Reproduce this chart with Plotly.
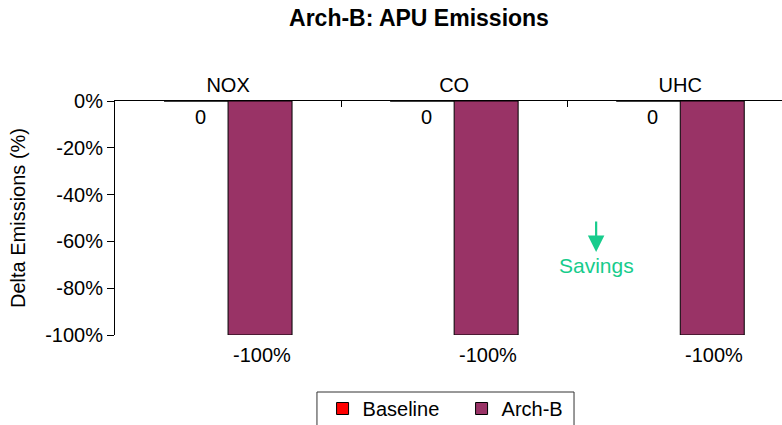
import plotly.graph_objects as go

categories = ["NOX", "CO", "UHC"]
baseline = [0, 0, 0]
arch_b = [-100, -100, -100]
baseline_labels = ["0", "0", "0"]
arch_b_labels = ["-100%", "-100%", "-100%"]
y_ticks = [0, -20, -40, -60, -80, -100]
y_tick_text = ["0%", "-20%", "-40%", "-60%", "-80%", "-100%"]

FONT = "Liberation Sans, Arial, sans-serif"
FS = 20
GREEN = "#17CC8C"

fig = go.Figure()
fig.add_trace(go.Bar(name="Baseline", x=categories, y=baseline,
                     marker=dict(color="#FF0000", line=dict(color="#000000", width=1))))
fig.add_trace(go.Bar(name="Arch-B", x=categories, y=arch_b,
                     marker=dict(color="#993366", line=dict(color="#000000", width=1))))

annotations = []
for i, c in enumerate(categories):
    annotations.append(dict(x=c, y=baseline[i], text=baseline_labels[i], showarrow=False,
                            xshift=-28, yshift=-16, font=dict(size=FS, color="#000000")))
    annotations.append(dict(x=c, y=arch_b[i], text=arch_b_labels[i], showarrow=False,
                            xshift=34, yshift=-20, font=dict(size=FS, color="#000000")))

# Savings arrow and label
annotations.append(dict(x=1.628, y=-64.5, ax=0, ay=-32, text="", showarrow=True,
                        arrowhead=2, arrowsize=1.5, arrowwidth=2.2, arrowcolor=GREEN))
annotations.append(dict(x=1.628, y=-70.5, text="Savings", showarrow=False,
                        font=dict(size=21, color=GREEN)))

fig.update_layout(
    width=782, height=425,
    margin=dict(l=115, r=0, t=101, b=90),
    paper_bgcolor="white", plot_bgcolor="white",
    font=dict(family=FONT, size=FS, color="#000000"),
    title=dict(text="<b>Arch-B: APU Emissions</b>", x=0.5358, xanchor="center",
               y=0.9576, yanchor="middle", font=dict(size=23), automargin=False),
    barmode="group", bargap=0.434, bargroupgap=0,
    showlegend=True,
    legend=dict(orientation="h", xref="container", yref="container",
                x=0.4125, xanchor="left", y=0.0847, yanchor="top",
                borderwidth=0, bgcolor="rgba(0,0,0,0)", font=dict(size=FS),
                entrywidth=94, itemwidth=30),
    shapes=[dict(type="rect", xref="paper", yref="paper",
                 x0=0.3028, x1=0.6882, y0=-0.40, y1=-0.2436,
                 line=dict(color="#333333", width=1), fillcolor="rgba(0,0,0,0)",
                 layer="below")],
    annotations=annotations,
    xaxis=dict(side="top", range=[-0.5, 2.45], showline=True, linecolor="#000000",
               linewidth=1, ticks="inside", tickson="boundaries", ticklen=6,
               tickcolor="#000000", showgrid=False, zeroline=False,
               tickfont=dict(size=FS), automargin=False),
    yaxis=dict(range=[-100, 0], tickvals=y_ticks, ticktext=y_tick_text,
               showline=True, linecolor="#000000", linewidth=1, ticks="outside",
               ticklen=7, tickcolor="#000000", showgrid=False, zeroline=False,
               tickfont=dict(size=FS), automargin=False,
               title=dict(text="Delta Emissions (%)", font=dict(size=FS), standoff=14)),
)

# remove the browser's default 8px body margin so the figure fills the window
fig.write_html("out.html", config={"displayModeBar": False},
               post_script="document.body.style.margin='0px';")
